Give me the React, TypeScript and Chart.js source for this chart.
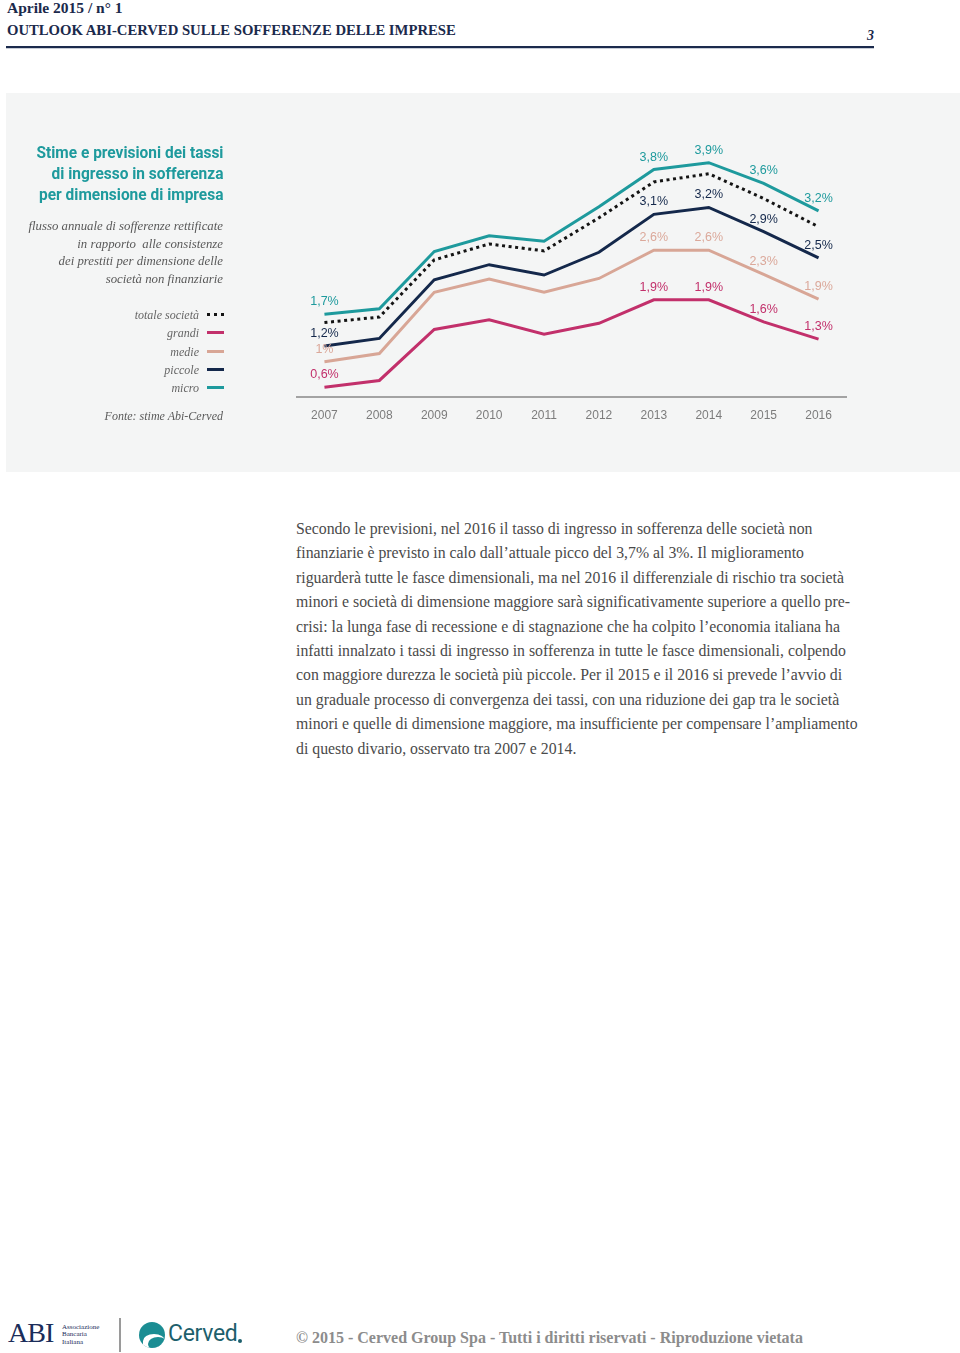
import React, { useEffect, useRef } from 'react';
import { Chart, registerables } from 'chart.js';

Chart.register(...registerables);

// ---- Data ----
const YEARS = ['2007', '2008', '2009', '2010', '2011', '2012', '2013', '2014', '2015', '2016'];

const MICRO = [1.7, 1.78, 2.61, 2.84, 2.76, 3.26, 3.8, 3.9, 3.6, 3.2];
const TOTALE = [1.58, 1.66, 2.49, 2.72, 2.62, 3.1, 3.62, 3.74, 3.38, 2.97];
const PICCOLE = [1.24, 1.35, 2.2, 2.42, 2.27, 2.6, 3.15, 3.25, 2.9, 2.52];
const MEDIE = [1.01, 1.13, 2.02, 2.21, 2.02, 2.22, 2.63, 2.63, 2.28, 1.92];
const GRANDI = [0.64, 0.74, 1.48, 1.62, 1.41, 1.57, 1.91, 1.91, 1.59, 1.34];

const MICRO_LABELS = ['1,7%', null, null, null, null, null, '3,8%', '3,9%', '3,6%', '3,2%'];
const PICCOLE_LABELS = ['1,2%', null, null, null, null, null, '3,1%', '3,2%', '2,9%', '2,5%'];
const MEDIE_LABELS = ['1%', null, null, null, null, null, '2,6%', '2,6%', '2,3%', '1,9%'];
const GRANDI_LABELS = ['0,6%', null, null, null, null, null, '1,9%', '1,9%', '1,6%', '1,3%'];

const Y_MIN = 0.5;
const Y_MAX = 4.2;

const C_MICRO = '#1e9a9d';
const C_TOTALE = '#141414';
const C_PICCOLE = '#14284b';
const C_MEDIE = '#d8a696';
const C_GRANDI = '#c2306b';

const LEGEND = [
  { name: 'totale società', color: C_TOTALE, dotted: true },
  { name: 'grandi', color: C_GRANDI, dotted: false },
  { name: 'medie', color: C_MEDIE, dotted: false },
  { name: 'piccole', color: C_PICCOLE, dotted: false },
  { name: 'micro', color: C_MICRO, dotted: false },
];

const BODY_LINES = [
  'Secondo le previsioni, nel 2016 il tasso di ingresso in sofferenza delle società non',
  'finanziarie è previsto in calo dall’attuale picco del 3,7% al 3%. Il miglioramento',
  'riguarderà tutte le fasce dimensionali, ma nel 2016 il differenziale di rischio tra società',
  'minori e società di dimensione maggiore sarà significativamente superiore a quello pre-',
  'crisi: la lunga fase di recessione e di stagnazione che ha colpito l’economia italiana ha',
  'infatti innalzato i tassi di ingresso in sofferenza in tutte le fasce dimensionali, colpendo',
  'con maggiore durezza le società più piccole. Per il 2015 e il 2016 si prevede l’avvio di',
  'un graduale processo di convergenza dei tassi, con una riduzione dei gap tra le società',
  'minori e quelle di dimensione maggiore, ma insufficiente per compensare l’ampliamento',
  'di questo divario, osservato tra 2007 e 2014.',
];

const pointLabelPlugin = {
  id: 'pointLabels',
  afterDatasetsDraw(chart: any) {
    const ctx = chart.ctx;
    chart.data.datasets.forEach((ds: any, di: number) => {
      const labels = ds.pointLabels;
      if (!labels) return;
      const meta = chart.getDatasetMeta(di);
      ctx.save();
      ctx.font = '12.5px "Liberation Sans", Arial, sans-serif';
      ctx.fillStyle = ds.labelColor;
      ctx.textAlign = 'center';
      ctx.textBaseline = 'middle';
      labels.forEach((t: string | null, i: number) => {
        if (!t) return;
        const p = meta.data[i];
        ctx.fillText(t, p.x, p.y - 12.5);
      });
      ctx.restore();
    });
  },
};

function LineChart() {
  const ref = useRef<HTMLCanvasElement | null>(null);
  useEffect(() => {
    if (!ref.current) return;
    const line = (label: string, data: number[], color: string, extra: any = {}) => ({
      label,
      data,
      borderColor: color,
      backgroundColor: color,
      borderWidth: 3,
      pointRadius: 0,
      tension: 0,
      fill: false,
      borderJoinStyle: 'miter',
      ...extra,
    });
    const chart = new Chart(ref.current, {
      type: 'line',
      data: {
        labels: YEARS,
        datasets: [
          line('grandi', GRANDI, C_GRANDI, { pointLabels: GRANDI_LABELS, labelColor: C_GRANDI }),
          line('medie', MEDIE, C_MEDIE, { pointLabels: MEDIE_LABELS, labelColor: '#dba89a' }),
          line('piccole', PICCOLE, C_PICCOLE, { pointLabels: PICCOLE_LABELS, labelColor: C_PICCOLE }),
          line('totale società', TOTALE, C_TOTALE, { borderDash: [3, 3.6], borderCapStyle: 'butt' }),
          line('micro', MICRO, C_MICRO, { pointLabels: MICRO_LABELS, labelColor: C_MICRO }),
        ] as any,
      },
      options: {
        responsive: false,
        animation: false,
        devicePixelRatio: 1,
        layout: { padding: { left: 291, right: 114, top: 49, bottom: 0 } },
        plugins: { legend: { display: false }, tooltip: { enabled: false } },
        scales: {
          x: {
            type: 'category',
            offset: true,
            grid: { display: false, drawTicks: false },
            border: { display: true, color: '#a3a3a3', width: 2 },
            ticks: {
              color: '#7c7c7c',
              padding: 11,
              font: { family: '"Liberation Sans", Arial, sans-serif', size: 12 },
              maxRotation: 0,
              autoSkip: false,
            },
            afterFit: (s: any) => {
              s.height = 75;
            },
          },
          y: { display: false, min: Y_MIN, max: Y_MAX },
        },
      } as any,
      plugins: [pointLabelPlugin],
    });
    return () => chart.destroy();
  }, []);
  return <canvas ref={ref} width={954} height={379} style={{ position: 'absolute', left: 0, top: 0, width: 954, height: 379 }} />;
}

const serif = '"Liberation Serif", "Times New Roman", serif';
const sans = 'Roboto, "Liberation Sans", Arial, sans-serif';

export default function App() {
  return (
    <div style={{ position: 'absolute', left: 0, top: 0, width: 960, height: 1353, overflow: 'hidden', background: '#ffffff' }}>
      {/* Header */}
      <div style={{ position: 'absolute', left: 7, top: -1, font: `bold 15.5px ${serif}`, color: '#1b2a4c', lineHeight: '18px', whiteSpace: 'nowrap' }}>
        Aprile 2015 / n° 1
      </div>
      <div style={{ position: 'absolute', left: 7, top: 21, font: `bold 14.7px ${serif}`, color: '#1b2a4c', lineHeight: '18px', whiteSpace: 'nowrap' }}>
        OUTLOOK ABI-CERVED SULLE SOFFERENZE DELLE IMPRESE
      </div>
      <div style={{ position: 'absolute', left: 864, top: 28, width: 10, textAlign: 'right', font: `italic bold 14px ${serif}`, color: '#1b2a4c', lineHeight: '16px' }}>
        3
      </div>
      <div style={{ position: 'absolute', left: 6, top: 46, width: 868, height: 2, background: '#1b2a4c' }} />
      <div style={{ position: 'absolute', left: 6, top: 48, width: 868, height: 1, background: '#c7ccd6' }} />

      {/* Grey panel */}
      <div style={{ position: 'absolute', left: 6, top: 93, width: 954, height: 379, background: '#f4f5f5' }}>
        <LineChart />
        <div
          style={{
            position: 'absolute',
            right: 954 - 217,
            top: 49,
            textAlign: 'right',
            font: `bold 17px ${sans}`,
            color: '#1e9a9d',
            lineHeight: '21px',
            whiteSpace: 'nowrap',
            transform: 'scaleX(0.91)',
            transformOrigin: 'right top',
          }}
        >
          Stime e previsioni dei tassi
          <br />
          di ingresso in sofferenza
          <br />
          per dimensione di impresa
        </div>
        <div
          style={{
            position: 'absolute',
            right: 954 - 217,
            top: 125,
            textAlign: 'right',
            font: `italic 12.8px ${serif}`,
            color: '#595959',
            lineHeight: '17.7px',
            whiteSpace: 'nowrap',
          }}
        >
          flusso annuale di sofferenze rettificate
          <br />
          in rapporto&nbsp; alle consistenze
          <br />
          dei prestiti per dimensione delle
          <br />
          società non finanziarie
        </div>
        {LEGEND.map((item, i) => (
          <div key={item.name} style={{ position: 'absolute', left: 0, top: 213 + i * 18.3, width: 218, height: 18 }}>
            <div
              style={{
                position: 'absolute',
                right: 25,
                top: 0,
                font: `italic 12px ${serif}`,
                color: '#666',
                lineHeight: '18px',
                whiteSpace: 'nowrap',
              }}
            >
              {item.name}
            </div>
            {item.dotted ? (
              <div style={{ position: 'absolute', left: 201, top: 7, width: 17, height: 0, borderTop: `3px dotted ${item.color}` }} />
            ) : (
              <div style={{ position: 'absolute', left: 201, top: 7, width: 17, height: 3, background: item.color }} />
            )}
          </div>
        ))}
        <div
          style={{
            position: 'absolute',
            right: 954 - 217,
            top: 314,
            font: `italic 12px ${serif}`,
            color: '#595959',
            lineHeight: '18px',
            whiteSpace: 'nowrap',
          }}
        >
          Fonte: stime Abi-Cerved
        </div>
      </div>

      {/* Body text */}
      <div style={{ position: 'absolute', left: 296, top: 517, font: `15.8px ${serif}`, color: '#4a4a4a', lineHeight: '24.4px', whiteSpace: 'nowrap' }}>
        {BODY_LINES.map((l, i) => (
          <div key={i}>{l}</div>
        ))}
      </div>

      {/* Footer */}
      <div style={{ position: 'absolute', left: 8, top: 1318, font: `28px ${serif}`, color: '#1b2d5a', lineHeight: '30px', letterSpacing: '-1px' }}>
        ABI
      </div>
      <div style={{ position: 'absolute', left: 62, top: 1324, font: `7px ${serif}`, color: '#1b2d5a', lineHeight: '7.3px' }}>
        Associazione
        <br />
        Bancaria
        <br />
        Italiana
      </div>
      <div style={{ position: 'absolute', left: 119, top: 1318, width: 1.5, height: 34, background: '#9a9a9a' }} />
      <div style={{ position: 'absolute', left: 139, top: 1322, width: 26, height: 26, borderRadius: 13, background: '#1b8d93', overflow: 'hidden' }}>
        <div style={{ position: 'absolute', left: 4, top: 12, width: 22, height: 14, borderRadius: '50% 50% 0 0', background: '#ffffff' }} />
        <div style={{ position: 'absolute', left: 9, top: 15, width: 20, height: 14, borderRadius: '50%', background: '#1b8d93' }} />
      </div>
      <div style={{ position: 'absolute', left: 168, top: 1321, font: `23px ${sans}`, color: '#1d5f6c', lineHeight: '26px', letterSpacing: '-0.3px' }}>
        Cerved
      </div>
      <div style={{ position: 'absolute', left: 238, top: 1339, width: 4, height: 4, borderRadius: 2, background: '#1d5f6c' }} />
      <div style={{ position: 'absolute', left: 296, top: 1328, font: `bold 16px ${serif}`, color: '#8c8c8c', lineHeight: '20px', whiteSpace: 'nowrap' }}>
        © 2015 - Cerved Group Spa - Tutti i diritti riservati - Riproduzione vietata
      </div>
    </div>
  );
}
